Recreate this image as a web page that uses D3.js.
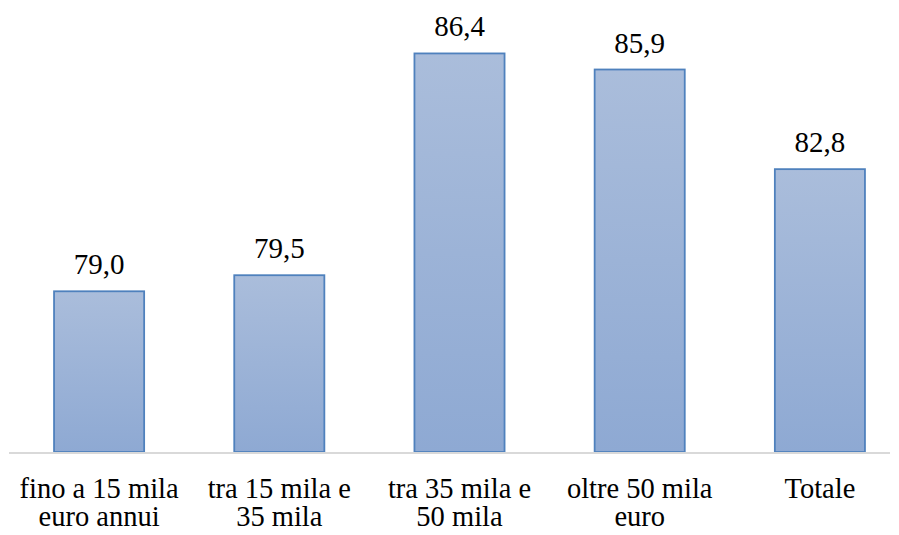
<!DOCTYPE html>
<html>
<head>
<meta charset="utf-8">
<script src="https://cdn.jsdelivr.net/npm/d3@7"></script>
<style>
  html, body { margin: 0; padding: 0; background: #ffffff; }
  svg { display: block; }
  #chart, #chart text, #chart tspan { font-family: "Liberation Serif", "Times New Roman", Tinos, serif !important; }
</style>
</head>
<body>
<svg id="chart" width="899" height="535" font-family="Liberation Serif"></svg>
<script>
// Categories (each line of a label is a separate entry)
const categories = [
  ["fino a 15 mila", "euro annui"],
  ["tra 15 mila e", "35 mila"],
  ["tra 35 mila e", "50 mila"],
  ["oltre 50 mila", "euro"],
  ["Totale"]
];
const values = [79.0, 79.5, 86.4, 85.9, 82.8];
const valueLabels = ["79,0", "79,5", "86,4", "85,9", "82,8"];

const svg = d3.select("#chart");
const baseline = 452;

const x = d3.scaleBand()
  .domain(d3.range(categories.length))
  .range([9, 910])
  .paddingInner(0.5)
  .paddingOuter(0.25);

const y = d3.scaleLinear()
  .domain([74, 88])
  .range([baseline, 2]);

// vertical gradient for bar fill
const defs = svg.append("defs");
const grad = defs.append("linearGradient")
  .attr("id", "barGrad")
  .attr("x1", 0).attr("y1", 0).attr("x2", 0).attr("y2", 1);
grad.append("stop").attr("offset", "0%").attr("stop-color", "#aabddb");
grad.append("stop").attr("offset", "100%").attr("stop-color", "#8ea9d3");

// bars
svg.append("g")
  .selectAll("rect")
  .data(values)
  .join("rect")
  .attr("x", (d, i) => x(i))
  .attr("y", d => y(d))
  .attr("width", x.bandwidth())
  .attr("height", d => baseline - y(d))
  .attr("fill", "url(#barGrad)")
  .attr("stroke", "#4f81bd")
  .attr("stroke-width", 1.8);

// category axis line
svg.append("line")
  .attr("x1", 9).attr("x2", 890)
  .attr("y1", baseline + 1).attr("y2", baseline + 1)
  .attr("stroke", "#d9d9d9")
  .attr("stroke-width", 2);

// value labels
svg.append("g")
  .selectAll("text")
  .data(values)
  .join("text")
  .attr("x", (d, i) => x(i) + x.bandwidth() / 2)
  .attr("y", d => y(d) - 17)
  .attr("text-anchor", "middle")
  .attr("font-family", "Liberation Serif")
  .attr("font-size", 29)
  .attr("fill", "#000")
  .text((d, i) => valueLabels[i]);

// category labels
const catG = svg.append("g")
  .selectAll("text")
  .data(categories)
  .join("text")
  .attr("x", (d, i) => x(i) + x.bandwidth() / 2)
  .attr("y", 498)
  .attr("text-anchor", "middle")
  .attr("font-family", "Liberation Serif")
  .attr("font-size", 28.5)
  .attr("fill", "#000");

catG.selectAll("tspan")
  .data((d, i) => d.map(t => ({ t, i })))
  .join("tspan")
  .attr("x", d => x(d.i) + x.bandwidth() / 2)
  .attr("dy", (d, j) => j === 0 ? 0 : 28)
  .text(d => d.t);
</script>
</body>
</html>
